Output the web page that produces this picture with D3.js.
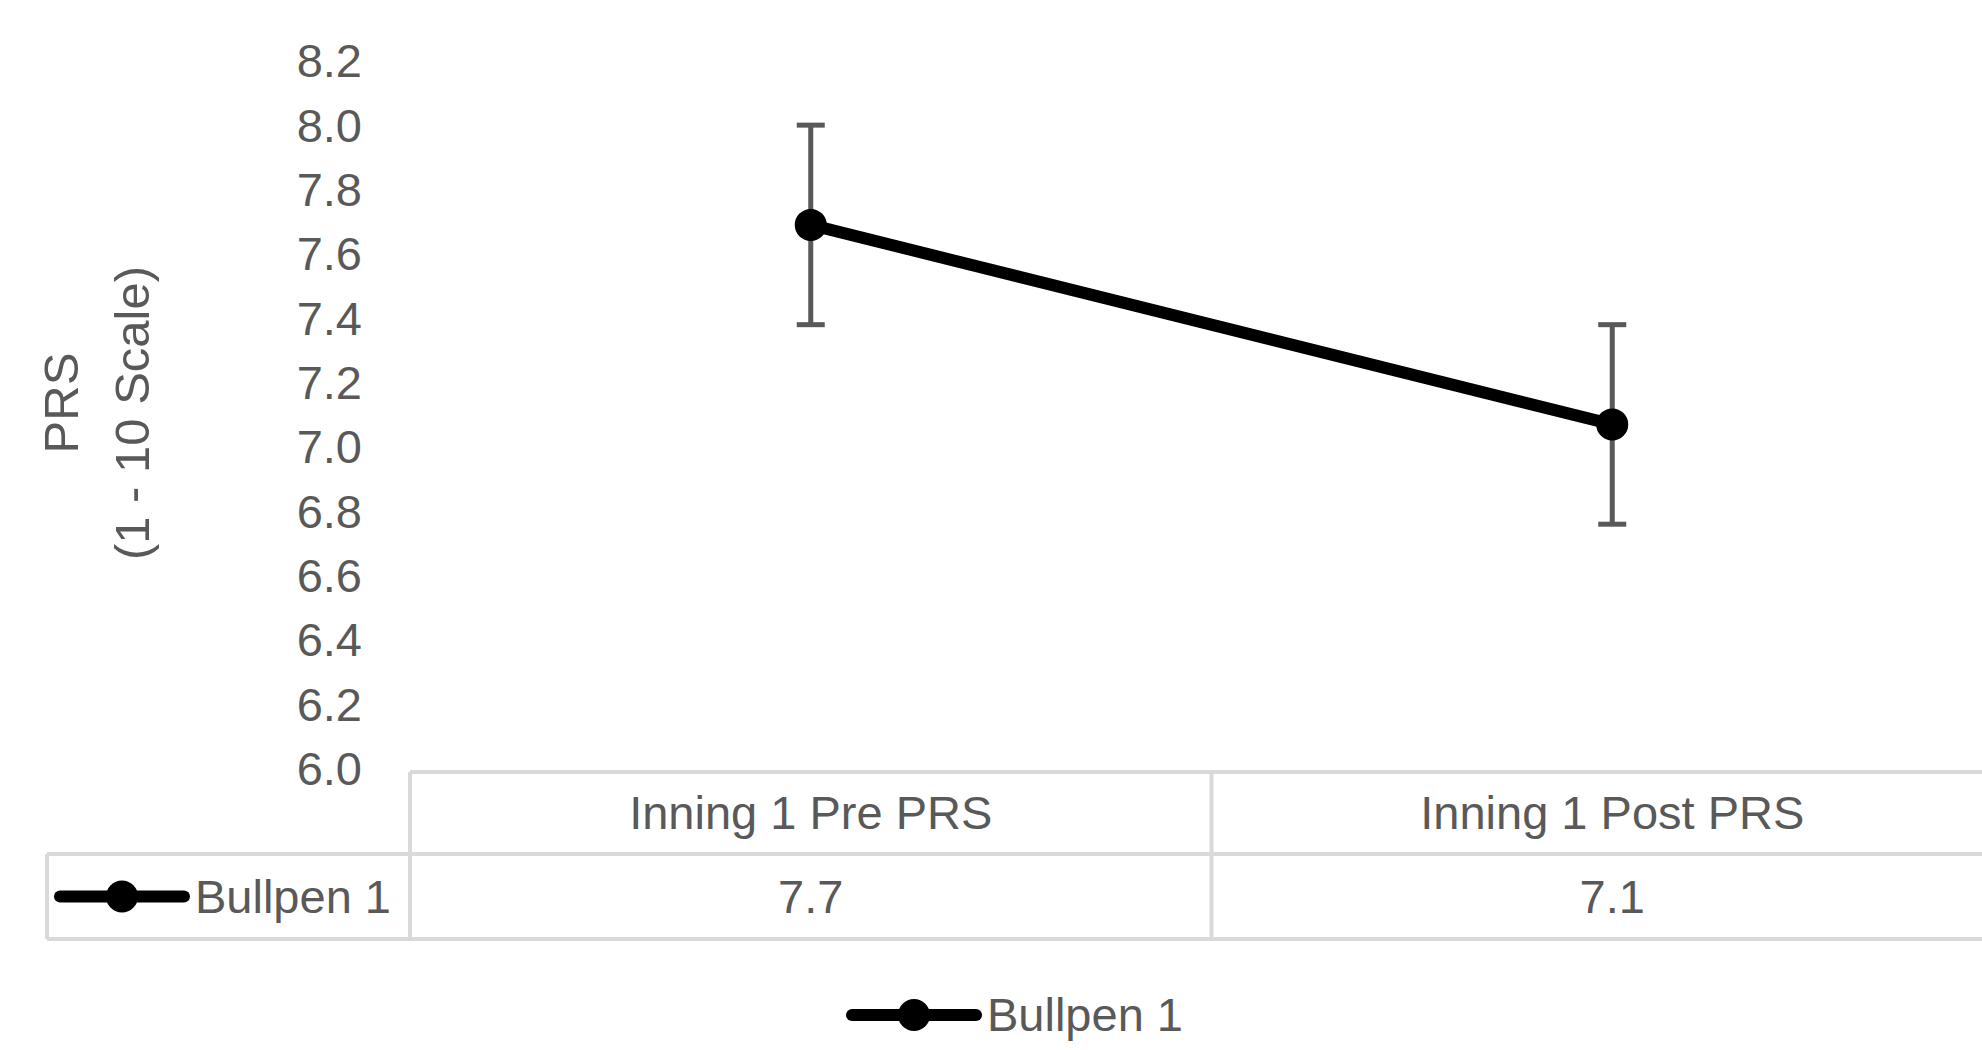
<!DOCTYPE html>
<meta http-equiv="Content-type" content="text/html; charset=UTF-8"/>
<style>
  body { margin: 0; background: #fff; }
  * { font-family: 'Liberation Sans', Arial, sans-serif; }
</style>
<svg width="1982" height="1050"></svg>
<script src="https://d3js.org/d3.v7.min.js"></script>
<script>
var categories = ["Inning 1 Pre PRS", "Inning 1 Post PRS"];
var seriesName = "Bullpen 1";
var values = [7.70, 7.08];
var errors = [0.31, 0.31];
var yTicks = [6.0, 6.2, 6.4, 6.6, 6.8, 7.0, 7.2, 7.4, 7.6, 7.8, 8.0, 8.2];
var yTitle = ["PRS", "(1 - 10 Scale)"];

var svg = d3.select("svg"),
    fontSize = 47,
    grey = "#595959",
    gridGrey = "#d9d9d9",
    plotLeft = 410, plotRight = 2013,
    plotTop = 64, plotBottom = 772,
    headerH = 82, rowH = 85,
    tableLeft = 47;

var x = d3.scaleBand()
    .domain(categories)
    .range([plotLeft, plotRight]);

var y = d3.scaleLinear()
    .domain([6.0, 8.2])
    .range([plotBottom, plotTop]);

var data = categories.map(function(c, i) {
  return {cat: c, value: values[i], err: errors[i]};
});

// y axis labels
var yAxis = svg.append("g")
    .attr("transform", "translate(" + plotLeft + ",0)")
    .call(d3.axisLeft(y).tickValues(yTicks).tickFormat(d3.format(".1f")).tickSize(0).tickPadding(48));
yAxis.select(".domain").remove();
yAxis.selectAll("text")
    .attr("fill", grey)
    .attr("dy", "0.27em")
    .style("font-size", fontSize + "px")
    .style("font-family", "'Liberation Sans', Arial, sans-serif");

// y axis title (two lines)
var titleX = [78, 149], titleY = [403, 413];
yTitle.forEach(function(t, i) {
  svg.append("text")
      .attr("transform", "translate(" + titleX[i] + "," + titleY[i] + ") rotate(-90)")
      .attr("text-anchor", "middle")
      .attr("fill", grey)
      .style("font-size", (fontSize + 2) + "px")
      .text(t);
});

// data table
var table = svg.append("g")
    .attr("stroke", gridGrey)
    .attr("stroke-width", 4)
    .attr("fill", "none");
var rowTop = plotBottom + headerH,
    rowBottom = rowTop + rowH;

table.append("line").attr("x1", plotLeft).attr("x2", plotRight).attr("y1", plotBottom).attr("y2", plotBottom);
table.append("line").attr("x1", tableLeft).attr("x2", plotRight).attr("y1", rowTop).attr("y2", rowTop);
table.append("line").attr("x1", tableLeft).attr("x2", plotRight).attr("y1", rowBottom).attr("y2", rowBottom);
table.append("line").attr("x1", tableLeft).attr("x2", tableLeft).attr("y1", rowTop).attr("y2", rowBottom);
table.selectAll(".vcol")
    .data(categories)
  .enter().append("line")
    .attr("x1", function(d) { return x(d); })
    .attr("x2", function(d) { return x(d); })
    .attr("y1", plotBottom)
    .attr("y2", rowBottom);

// header labels
svg.selectAll(".cat")
    .data(categories)
  .enter().append("text")
    .attr("x", function(d) { return x(d) + x.bandwidth() / 2; })
    .attr("y", plotBottom + headerH / 2)
    .attr("dy", "0.35em")
    .attr("text-anchor", "middle")
    .attr("fill", grey)
    .style("font-size", fontSize + "px")
    .text(function(d) { return d; });

// value cells
svg.selectAll(".val")
    .data(data)
  .enter().append("text")
    .attr("x", function(d) { return x(d.cat) + x.bandwidth() / 2; })
    .attr("y", rowTop + rowH / 2)
    .attr("dy", "0.35em")
    .attr("text-anchor", "middle")
    .attr("fill", grey)
    .style("font-size", fontSize + "px")
    .text(function(d) { return d3.format(".1f")(d.value); });

// legend key helper
function legendKey(x0, yc) {
  var g = svg.append("g");
  g.append("line")
      .attr("x1", x0).attr("x2", x0 + 124)
      .attr("y1", yc).attr("y2", yc)
      .attr("stroke", "#000")
      .attr("stroke-width", 12)
      .attr("stroke-linecap", "round");
  g.append("circle")
      .attr("cx", x0 + 62).attr("cy", yc).attr("r", 16)
      .attr("fill", "#000");
  g.append("text")
      .attr("x", x0 + 135).attr("y", yc)
      .attr("dy", "0.35em")
      .attr("fill", grey)
      .style("font-size", fontSize + "px")
      .text(seriesName);
}
legendKey(60, rowTop + rowH / 2);
legendKey(852, 1015);

// error bars
var cx = function(d) { return x(d.cat) + x.bandwidth() / 2; };
var eb = svg.append("g")
    .attr("stroke", grey)
    .attr("stroke-width", 5);
eb.selectAll(".ev")
    .data(data)
  .enter().append("line")
    .attr("x1", cx).attr("x2", cx)
    .attr("y1", function(d) { return y(d.value + d.err); })
    .attr("y2", function(d) { return y(d.value - d.err); });
[1, -1].forEach(function(s) {
  eb.selectAll(".cap" + s)
      .data(data)
    .enter().append("line")
      .attr("x1", function(d) { return cx(d) - 14; })
      .attr("x2", function(d) { return cx(d) + 14; })
      .attr("y1", function(d) { return y(d.value + s * d.err); })
      .attr("y2", function(d) { return y(d.value + s * d.err); });
});

// series line + markers
svg.append("path")
    .datum(data)
    .attr("fill", "none")
    .attr("stroke", "#000")
    .attr("stroke-width", 12)
    .attr("d", d3.line().x(cx).y(function(d) { return y(d.value); }));

svg.selectAll(".dot")
    .data(data)
  .enter().append("circle")
    .attr("cx", cx)
    .attr("cy", function(d) { return y(d.value); })
    .attr("r", 16)
    .attr("fill", "#000");
</script>
